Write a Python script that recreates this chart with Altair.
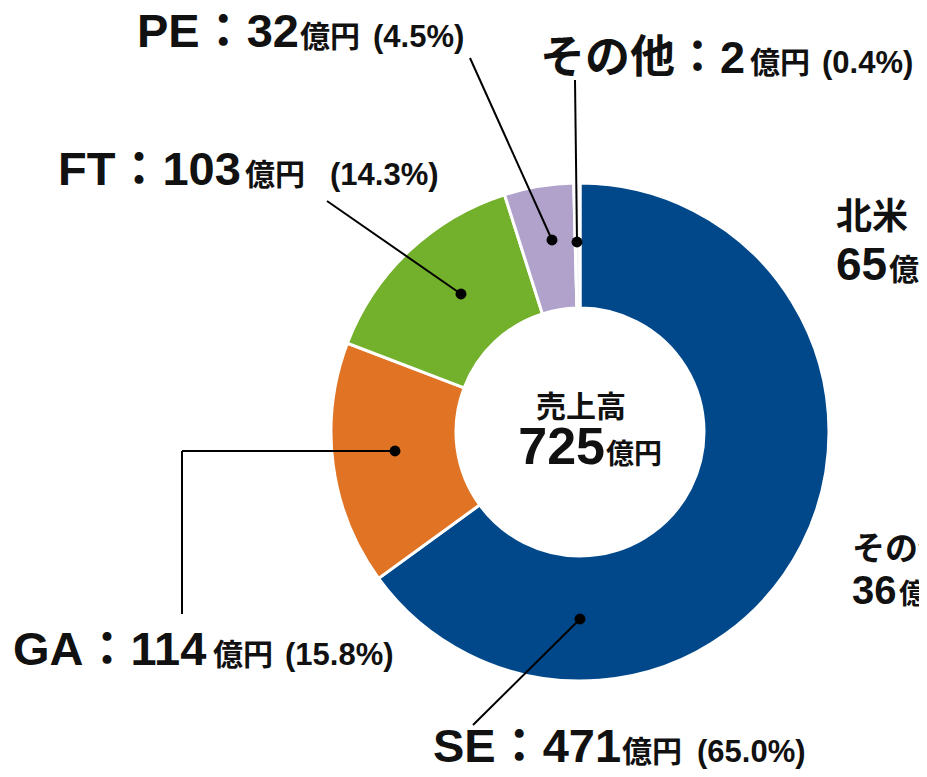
import altair as alt
import pandas as pd

# ---------------- data ----------------
segments = ["SE", "GA", "FT", "PE", "その他"]
amounts = [471, 114, 103, 32, 2]
shares = [65.0, 15.8, 14.3, 4.5, 0.4]
colors = ["#00488a", "#e07424", "#73b12d", "#b0a2ca", "#f2f2f2"]
center_title = "売上高"
total_amount = 725
unit = "億円"

# labels of the neighbouring (cut-off) chart on the right
right_names = ["北米", "その他"]
right_amounts = [65, 36]

# ---------------- layout ----------------
OFF = 8
W, H = 911, 761
CX, CY = 580 - OFF, 432 - OFF
R_OUT, R_IN = 249, 124
FONT = "Liberation Sans, Noto Sans CJK JP"

# page px: big-text start, unit start, pct start, baseline
label_layout = {
    "SE": (433, 622, 697, 762),
    "GA": (13, 213, 285, 665),
    "FT": (58, 245, 330, 185),
    "PE": (137, 300, 373, 47),
    "その他": (540, 750, 822, 73),
}
# leader lines: list of polyline points (page px), first point = dot
leader_layout = {
    "SE": [(580, 619), (473, 725)],
    "GA": [(395, 451), (182, 451), (182, 614)],
    "FT": [(461, 294), (327, 201)],
    "PE": [(552, 240), (470, 58)],
    "その他": [(577, 242), (575, 80)],
}

pie = pd.DataFrame({
    "segment": segments,
    "amount": amounts,
    "share": shares,
    "idx": list(range(len(segments))),
})

seg_rows, dot_rows, txt_rows = [], [], []
for s, a, p in zip(segments, amounts, shares):
    pts = leader_layout[s]
    dot_rows.append({"x": pts[0][0] - OFF, "y": pts[0][1] - OFF})
    for (x1, y1), (x2, y2) in zip(pts[:-1], pts[1:]):
        seg_rows.append({"x": x1 - OFF, "y": y1 - OFF, "x2": x2 - OFF, "y2": y2 - OFF})
    bx, ux, px, by = label_layout[s]
    big_size = 45 if s == "その他" else 47
    txt_rows.append({"text": f"{s}：{a}", "x": bx - OFF, "y": by - OFF, "size": big_size})
    txt_rows.append({"text": unit, "x": ux - OFF, "y": by - OFF, "size": 30})
    txt_rows.append({"text": f"({p:.1f}%)", "x": px - OFF, "y": by - OFF, "size": 31})

# right cut-off labels
txt_rows += [
    {"text": right_names[0], "x": 836 - OFF, "y": 229 - OFF, "size": 36},
    {"text": f"{right_amounts[0]}", "x": 836 - OFF, "y": 280 - OFF, "size": 46},
    {"text": "億円", "x": 889 - OFF, "y": 280 - OFF, "size": 30},
    {"text": right_names[1] + "：", "x": 852 - OFF, "y": 560 - OFF, "size": 33},
    {"text": f"{right_amounts[1]}", "x": 852 - OFF, "y": 604 - OFF, "size": 40},
    {"text": "億円", "x": 899 - OFF, "y": 604 - OFF, "size": 28},
]

segs = pd.DataFrame(seg_rows)
dots = pd.DataFrame(dot_rows)
txts = pd.DataFrame(txt_rows)

center = pd.DataFrame([
    {"text": center_title, "x": 581 - OFF, "y": 417 - OFF, "size": 30},
])
center_num = pd.DataFrame([{"text": f"{total_amount}", "x": 605 - OFF, "y": 464 - OFF, "size": 52}])
center_unit = pd.DataFrame([{"text": unit, "x": 606 - OFF, "y": 464 - OFF, "size": 28}])

X = lambda f: alt.X(f, scale=None)
Y = lambda f: alt.Y(f, scale=None)

arcs = alt.Chart(pie).mark_arc(
    radius=R_OUT, radius2=R_IN, stroke="white", strokeWidth=3
).encode(
    theta=alt.Theta("share:Q", stack=True),
    order=alt.Order("idx:Q"),
    color=alt.Color("segment:N", scale=alt.Scale(domain=segments, range=colors), legend=None),
    x=alt.value(CX),
    y=alt.value(CY),
)

rules = alt.Chart(segs).mark_rule(color="black", strokeWidth=2).encode(
    x=X("x:Q"), y=Y("y:Q"), x2="x2:Q", y2="y2:Q"
)

dot_layer = alt.Chart(dots).mark_circle(color="black", opacity=1, size=120).encode(
    x=X("x:Q"), y=Y("y:Q")
)

text_left = alt.Chart(txts).mark_text(
    align="left", baseline="alphabetic", font=FONT, fontWeight="bold", color="#111111"
).encode(x=X("x:Q"), y=Y("y:Q"), text="text:N", size=alt.Size("size:Q", scale=None))

text_center = alt.Chart(center).mark_text(
    align="center", baseline="alphabetic", font=FONT, fontWeight="bold", color="#111111"
).encode(x=X("x:Q"), y=Y("y:Q"), text="text:N", size=alt.Size("size:Q", scale=None))

text_num = alt.Chart(center_num).mark_text(
    align="right", baseline="alphabetic", font=FONT, fontWeight="bold", color="#111111"
).encode(x=X("x:Q"), y=Y("y:Q"), text="text:N", size=alt.Size("size:Q", scale=None))

text_unit = alt.Chart(center_unit).mark_text(
    align="left", baseline="alphabetic", font=FONT, fontWeight="bold", color="#111111"
).encode(x=X("x:Q"), y=Y("y:Q"), text="text:N", size=alt.Size("size:Q", scale=None))

chart = alt.layer(
    arcs, rules, dot_layer, text_left, text_center, text_num, text_unit
).properties(
    width=W, height=H, padding=0, autosize="none"
).configure_view(stroke=None)

chart.save("out.html", embed_options={"renderer": "svg", "actions": False})
